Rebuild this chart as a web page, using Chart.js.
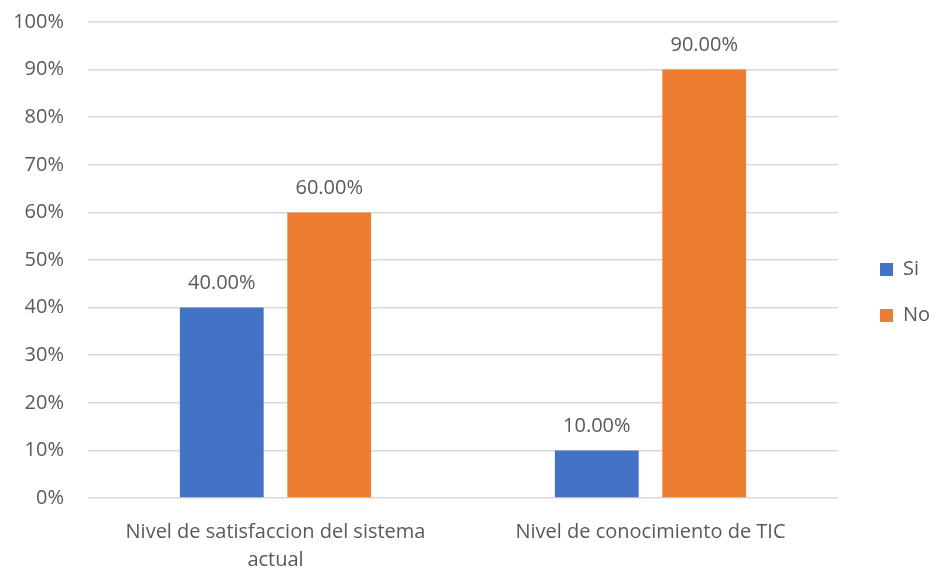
<!DOCTYPE html>
<html>
<head>
<meta charset="utf-8">
<script src="https://cdn.jsdelivr.net/npm/chart.js@4"></script>
<style>
    html, body { margin: 0; padding: 0; background: #ffffff; }
    #wrap { width: 932px; height: 571px; position: relative; }
</style>
</head>
<body>
<div id="wrap"><canvas id="surveyChart"></canvas></div>
<script>
const categories = [
    ['Nivel de satisfaccion del sistema', 'actual'],
    'Nivel de conocimiento de TIC'
];
const siValues = [40, 10];
const noValues = [60, 90];
const seriesNames = ['Si', 'No'];

const textColor = '#595959';
const fontFamily = '"Open Sans", "Noto Sans", sans-serif';

// writes the value above each bar, two decimals like the sheet
const barValueLabels = {
    id: 'barValueLabels',
    afterDatasetsDraw(chart) {
        const ctx = chart.ctx;
        ctx.save();
        ctx.font = '20px ' + fontFamily;
        ctx.fillStyle = textColor;
        ctx.textAlign = 'center';
        ctx.textBaseline = 'middle';
        chart.data.datasets.forEach((ds, i) => {
            const meta = chart.getDatasetMeta(i);
            meta.data.forEach((bar, j) => {
                ctx.fillText(ds.data[j].toFixed(2) + '%', bar.x, bar.y - 24);
            });
        });
        ctx.restore();
    }
};

// legend keeps a fixed column on the right, items pushed a bit off the plot
const legendColumn = {
    id: 'legendColumn',
    beforeInit(chart) {
        const legend = chart.legend;
        const fit = legend.fit;
        legend.fit = function () {
            fit.call(this);
            this.width = 90;
        };
    },
    afterLayout(chart) {
        const legend = chart.legend;
        legend.left += 16;
        legend.right += 16;
        legend.top -= 4;
        legend.bottom -= 4;
    }
};

const ctx = document.getElementById('surveyChart').getContext('2d');
window.surveyChart = new Chart(ctx, {
    type: 'bar',
    data: {
        labels: categories,
        datasets: [{
                label: seriesNames[0],
                data: siValues,
                backgroundColor: '#4472c4'
            },
            {
                label: seriesNames[1],
                data: noValues,
                backgroundColor: '#ed7d31'
            }
        ]
    },
    options: {
        responsive: true,
        maintainAspectRatio: false,
        animation: false,
        categoryPercentage: 0.573,
        barPercentage: 0.78,
        layout: {
            padding: { top: 22, left: 0, right: 4, bottom: 0 }
        },
        scales: {
            x: {
                grid: { display: false },
                border: { display: false },
                afterFit: scale => { scale.height = 73; },
                ticks: {
                    color: textColor,
                    font: { family: fontFamily, size: 20, lineHeight: 1.4 },
                    padding: 12,
                    maxRotation: 0
                }
            },
            y: {
                min: 0,
                max: 100,
                grid: {
                    color: '#d9d9d9',
                    lineWidth: 1.5,
                    drawTicks: false
                },
                border: { display: false },
                afterFit: scale => {
                    scale.width = 88;
                    scale.paddingTop = 0;
                },
                ticks: {
                    stepSize: 10,
                    color: textColor,
                    font: { family: fontFamily, size: 20 },
                    padding: 24,
                    callback: v => v + '%'
                }
            }
        },
        plugins: {
            legend: {
                position: 'right',
                labels: {
                    color: textColor,
                    font: { family: fontFamily, size: 20 },
                    boxWidth: 13,
                    boxHeight: 13,
                    padding: 26
                }
            },
            tooltip: { enabled: false }
        }
    },
    plugins: [barValueLabels, legendColumn]
});
</script>
</body>
</html>
